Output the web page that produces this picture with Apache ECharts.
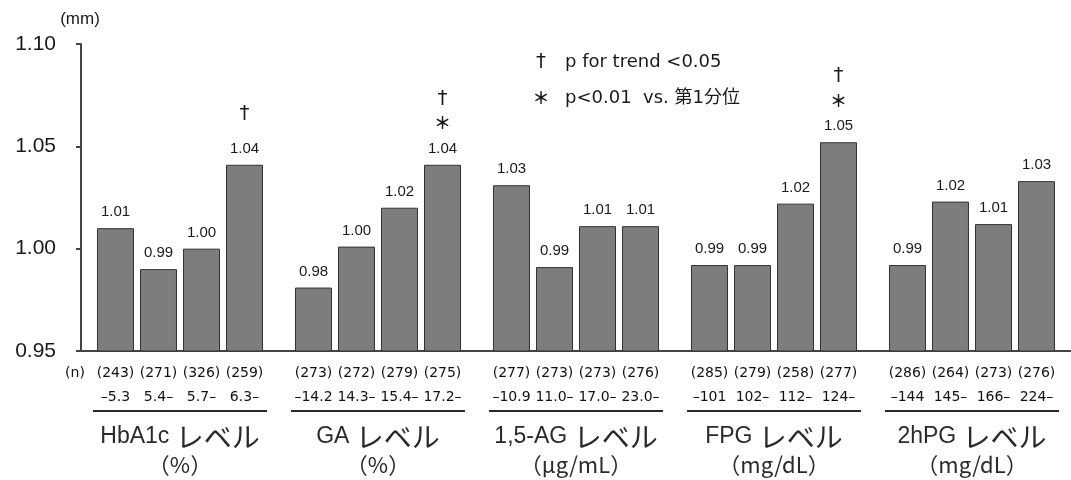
<!DOCTYPE html>
<html>
<head>
<meta charset="utf-8">
<script src="https://cdn.jsdelivr.net/npm/echarts@6.0.0/dist/echarts.min.js"></script>
<style>
  html, body { margin: 0; padding: 0; background: #fff; }
  #chart { width: 1071px; height: 480px; }
</style>
</head>
<body>
<div id="chart"></div>
<script>
// Glycemic marker categories (x axis) and their units
const categories = ['HbA1c レベル', 'GA レベル', '1,5-AG レベル', 'FPG レベル', '2hPG レベル'];
const units = ['（%）', '（%）', '（μg/mL）', '（mg/dL）', '（mg/dL）'];

// Mean value per quartile (mm), one array per quartile, ordered by category
const q1Values = [1.010, 0.981, 1.031, 0.992, 0.992];
const q2Values = [0.990, 1.001, 0.991, 0.992, 1.023];
const q3Values = [1.000, 1.020, 1.011, 1.022, 1.012];
const q4Values = [1.041, 1.041, 1.011, 1.052, 1.033];

// Number of subjects per quartile
const nCounts = [
  [243, 271, 326, 259],
  [273, 272, 279, 275],
  [277, 273, 273, 276],
  [285, 279, 258, 277],
  [286, 264, 273, 276]
];

// Quartile cut-off labels
const cutoffs = [
  ['–5.3', '5.4–', '5.7–', '6.3–'],
  ['–14.2', '14.3–', '15.4–', '17.2–'],
  ['–10.9', '11.0–', '17.0–', '23.0–'],
  ['–101', '102–', '112–', '124–'],
  ['–144', '145–', '166–', '224–']
];

// Significance marks: † p for trend < 0.05, ＊ p < 0.01 vs. first quartile
const trendMarks = [[0, 0, 0, 1], [0, 0, 0, 1], [0, 0, 0, 0], [0, 0, 0, 1], [0, 0, 0, 0]];
const sigMarks   = [[0, 0, 0, 0], [0, 0, 0, 1], [0, 0, 0, 0], [0, 0, 0, 1], [0, 0, 0, 0]];

// Y axis range and tick step
const Y_MIN = 0.95, Y_MAX = 1.10, Y_STEP = 0.05;
const Y_UNIT = '(mm)';
const N_LABEL = '(n)';
const LEGEND_TREND = ['†', 'p for trend <0.05'];
const LEGEND_SIG = ['＊', 'p<0.01  vs. 第1分位'];

const quartiles = [q1Values, q2Values, q3Values, q4Values];

const BAR_W = 37, BAR_GAP = 6;
const LATIN = "'Liberation Sans', Arial, sans-serif";
const GOTHIC = "'DejaVu Sans', sans-serif";
const CJK = "'Noto Sans CJK JP', sans-serif";
const TEXT = '#1a1a1a';

const chart = echarts.init(document.getElementById('chart'), null, { renderer: 'canvas' });

const barSeries = quartiles.map((vals, q) => ({
  type: 'bar',
  name: 'Q' + (q + 1),
  data: vals,
  barWidth: BAR_W,
  barGap: (BAR_GAP / BAR_W * 100).toFixed(2) + '%',
  itemStyle: { color: '#7d7d7d', borderColor: '#333333', borderWidth: 1 },
  label: {
    show: true,
    position: 'top',
    distance: 3,
    formatter: p => {
      const g = p.dataIndex;
      const lines = [];
      if (trendMarks[g][q]) lines.push('{d|†}');
      if (sigMarks[g][q]) lines.push('{s|＊}');
      else if (trendMarks[g][q]) lines.push('{g| }');
      lines.push('{v|' + p.value.toFixed(2) + '}');
      return lines.join('\n');
    },
    rich: {
      v: { fontSize: 15, lineHeight: 26, fontFamily: LATIN, color: TEXT },
      d: { fontSize: 20, lineHeight: 22, fontFamily: GOTHIC, color: TEXT },
      s: { fontSize: 17, lineHeight: 26, fontFamily: CJK, fontWeight: 'bold', color: TEXT },
      g: { fontSize: 1, lineHeight: 11 }
    }
  },
  z: 2
}));

// Per-bar n counts and cut-off ranges below the baseline
const bottomItems = [];
categories.forEach((c, g) => { for (let q = 0; q < 4; q++) bottomItems.push([g, q]); });

const bottomText = {
  type: 'custom',
  coordinateSystem: 'cartesian2d',
  clip: false,
  silent: true,
  encode: { x: 0, y: 1 },
  data: bottomItems,
  renderItem: (params, api) => {
    const g = api.value(0), q = api.value(1);
    const base = api.coord([g, Y_MIN]);
    const cx = base[0] + (q - 1.5) * (BAR_W + BAR_GAP);
    const common = { align: 'center', verticalAlign: 'middle', fontSize: 14, fontFamily: GOTHIC, fill: '#111' };
    return {
      type: 'group',
      children: [
        { type: 'text', style: Object.assign({ text: '(' + nCounts[g][q] + ')', x: cx, y: base[1] + 22 }, common) },
        { type: 'text', style: Object.assign({ text: cutoffs[g][q], x: cx, y: base[1] + 46 }, common) }
      ]
    };
  }
};

// Underline spanning each group of four quartiles
const groupLines = {
  type: 'custom',
  coordinateSystem: 'cartesian2d',
  clip: false,
  silent: true,
  encode: { x: 0, y: 1 },
  data: categories.map((c, g) => [g, 0]),
  renderItem: (params, api) => {
    const g = api.value(0);
    const base = api.coord([g, Y_MIN]);
    const half = 2 * (BAR_W + BAR_GAP) + 1;
    return {
      type: 'line',
      shape: { x1: base[0] - half, y1: base[1] + 60, x2: base[0] + half, y2: base[1] + 60 },
      style: { stroke: '#2a2a2a', lineWidth: 2 }
    };
  }
};

const option = {
  animation: false,
  backgroundColor: '#ffffff',
  grid: { left: 81, top: 44, width: 1000, height: 307 },
  xAxis: {
    type: 'category',
    data: categories,
    axisLine: { show: true, lineStyle: { color: '#444', width: 2 } },
    axisTick: { show: false },
    axisLabel: {
      margin: 72,
      interval: 0,
      formatter: (value, idx) => {
        const parts = value.split(' ');
        return '{lat|' + parts[0] + ' }{kana|' + parts[1] + '}\n{unit|' + units[idx] + '}';
      },
      rich: {
        lat: { fontSize: 23, lineHeight: 28, fontFamily: LATIN, color: '#2a2a2a' },
        kana: { fontSize: 28, lineHeight: 28, fontFamily: CJK, color: '#2a2a2a' },
        unit: { fontSize: 22, lineHeight: 28, fontFamily: CJK, color: '#2a2a2a' }
      }
    }
  },
  yAxis: {
    type: 'value',
    min: Y_MIN,
    max: Y_MAX,
    interval: Y_STEP,
    name: Y_UNIT,
    nameLocation: 'end',
    nameGap: 16,
    nameTextStyle: { fontSize: 17, fontFamily: LATIN, color: TEXT, padding: [0, 2, 0, 0] },
    axisLine: { show: true, lineStyle: { color: '#444', width: 2 } },
    axisTick: { show: true, length: 5, lineStyle: { color: '#444', width: 2 } },
    splitLine: { show: false },
    axisLabel: {
      margin: 25,
      fontSize: 21,
      fontFamily: LATIN,
      color: TEXT,
      formatter: v => v.toFixed(2)
    }
  },
  graphic: [
    { type: 'text', x: 75, y: 373, style: { text: N_LABEL, align: 'center', verticalAlign: 'middle', fontSize: 14, fontFamily: GOTHIC, fill: '#111' } },
    { type: 'text', x: 541, y: 62, style: { text: LEGEND_TREND[0], align: 'center', verticalAlign: 'middle', fontSize: 20, fontFamily: GOTHIC, fill: TEXT } },
    { type: 'text', x: 565, y: 62, style: { text: LEGEND_TREND[1], align: 'left', verticalAlign: 'middle', fontSize: 18, fontFamily: GOTHIC, fill: TEXT } },
    { type: 'text', x: 541, y: 98, style: { text: LEGEND_SIG[0], align: 'center', verticalAlign: 'middle', fontSize: 17, fontWeight: 'bold', fontFamily: CJK, fill: TEXT } },
    { type: 'text', x: 565, y: 98, style: { text: LEGEND_SIG[1], align: 'left', verticalAlign: 'middle', fontSize: 18, fontFamily: GOTHIC + ", " + CJK, fill: TEXT } }
  ],
  series: barSeries.concat([bottomText, groupLines])
};

chart.setOption(option);
</script>
</body>
</html>
